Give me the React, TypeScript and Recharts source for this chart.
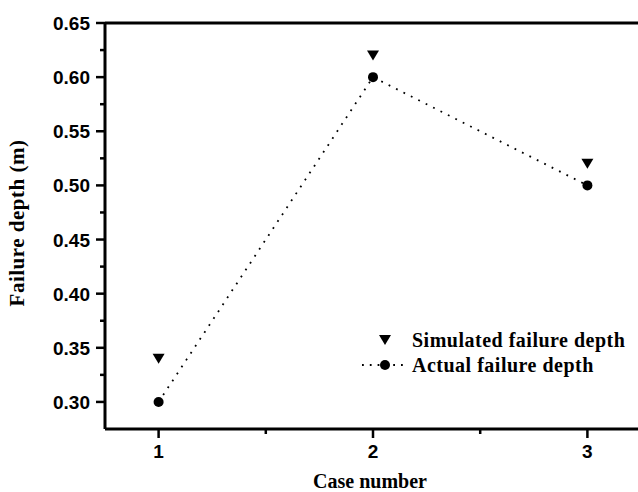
import { LineChart, Line, XAxis, YAxis, ReferenceLine } from 'recharts'

// Case numbers and measured / simulated failure depths (m)
const caseNumbers = [1, 2, 3]
const simulatedDepth = [0.34, 0.62, 0.52]
const actualDepth = [0.3, 0.6, 0.5]

// Axis ticks: majors get labels, halves are minor marks
const xTicks = [1, 1.5, 2, 2.5, 3]
const yTicks = [0.3, 0.325, 0.35, 0.375, 0.4, 0.425, 0.45, 0.475, 0.5, 0.525, 0.55, 0.575, 0.6, 0.625, 0.65]

const seriesNames = ['Simulated failure depth', 'Actual failure depth']

const data = caseNumbers.map((c, i) => ({
  caseNo: c,
  simulated: simulatedDepth[i],
  actual: actualDepth[i],
}))

const tickFont = '"Liberation Sans", Arial, sans-serif'
const titleFont = '"Liberation Serif", "Times New Roman", serif'

const isMajor = (v: number, step: number) => Math.abs(v / step - Math.round(v / step)) < 1e-6

function XTick({ x, y, payload }: any) {
  const major = isMajor(payload.value, 1)
  return (
    <g>
      <line x1={x} x2={x} y1={y} y2={y + (major ? 9 : 5)} stroke="#000" strokeWidth={2.5} />
      {major && (
        <text x={x} y={y + 29} textAnchor="middle" fontFamily={tickFont} fontWeight="bold" fontSize={19} fill="#000">
          {payload.value}
        </text>
      )}
    </g>
  )
}

function YTick({ x, y, payload }: any) {
  const major = isMajor(payload.value, 0.05)
  return (
    <g>
      <line x1={x - (major ? 9 : 5)} x2={x} y1={y} y2={y} stroke="#000" strokeWidth={2.5} />
      {major && (
        <text x={x - 15} y={y + 7} textAnchor="end" fontFamily={tickFont} fontWeight="bold" fontSize={19} fill="#000">
          {payload.value.toFixed(2)}
        </text>
      )}
    </g>
  )
}

function Triangle({ cx, cy }: any) {
  if (cx == null || cy == null) return null
  return <path d={`M${cx - 6},${cy - 5}L${cx + 6},${cy - 5}L${cx},${cy + 5}Z`} fill="#000" />
}

function Circle({ cx, cy }: any) {
  if (cx == null || cy == null) return null
  return <circle cx={cx} cy={cy} r={5} fill="#000" />
}

// Legend drawn on top of the plot, lower right
function LegendBox() {
  return (
    <svg width={280} height={60} style={{ position: 'absolute', left: 355, top: 321 }}>
      <path d="M24,14L36,14L30,24Z" fill="#000" />
      <text x={57} y={26} fontFamily={titleFont} fontWeight="bold" fontSize={20} letterSpacing={0.5} fill="#000">
        {seriesNames[0]}
      </text>
      <line x1={7} x2={53} y1={44} y2={44} stroke="#000" strokeWidth={1.8} strokeDasharray="1.8 6" />
      <circle cx={30} cy={44} r={5} fill="#000" />
      <text x={57} y={51} fontFamily={titleFont} fontWeight="bold" fontSize={20} letterSpacing={0.5} fill="#000">
        {seriesNames[1]}
      </text>
    </svg>
  )
}

export default function App() {
  return (
    <div style={{ position: 'absolute', left: 0, top: 0, width: 638, height: 492, overflow: 'hidden', background: '#fff' }}>
      <LineChart width={660} height={492} data={data} margin={{ top: 23, right: 19, bottom: 0, left: 0 }}>
        <XAxis
          dataKey="caseNo"
          type="number"
          domain={[0.75, 3.25]}
          ticks={xTicks}
          tick={<XTick />}
          tickLine={false}
          tickSize={0}
          tickMargin={0}
          axisLine={{ stroke: '#000', strokeWidth: 3 }}
          height={63}
          label={{
            content: ({ viewBox }: any) => (
              <text
                x={viewBox.x + viewBox.width / 2 - 3}
                y={488}
                textAnchor="middle"
                fontFamily={titleFont}
                fontWeight="bold"
                fontSize={20}
                fill="#000"
              >
                Case number
              </text>
            ),
          }}
        />
        <YAxis
          type="number"
          domain={[0.275, 0.65]}
          ticks={yTicks}
          tick={<YTick />}
          tickLine={false}
          tickSize={0}
          tickMargin={0}
          width={105}
          axisLine={{ stroke: '#000', strokeWidth: 3 }}
          label={{
            content: () => (
              <text
                x={0}
                y={0}
                transform="translate(24,223) rotate(-90)"
                textAnchor="middle"
                fontFamily={titleFont}
                fontWeight="bold"
                fontSize={21}
                letterSpacing={0.5}
                fill="#000"
              >
                Failure depth (m)
              </text>
            ),
          }}
        />
        <ReferenceLine y={0.65} stroke="#000" strokeWidth={3} />
        <ReferenceLine x={3.25} stroke="#000" strokeWidth={3} />
        <Line
          dataKey="simulated"
          name={seriesNames[0]}
          stroke="none"
          dot={<Triangle />}
          activeDot={false}
          isAnimationActive={false}
        />
        <Line
          dataKey="actual"
          name={seriesNames[1]}
          type="linear"
          stroke="#000"
          strokeWidth={1.8}
          strokeDasharray="1.8 6.5"
          dot={<Circle />}
          activeDot={false}
          isAnimationActive={false}
        />
      </LineChart>
      <LegendBox />
    </div>
  )
}
